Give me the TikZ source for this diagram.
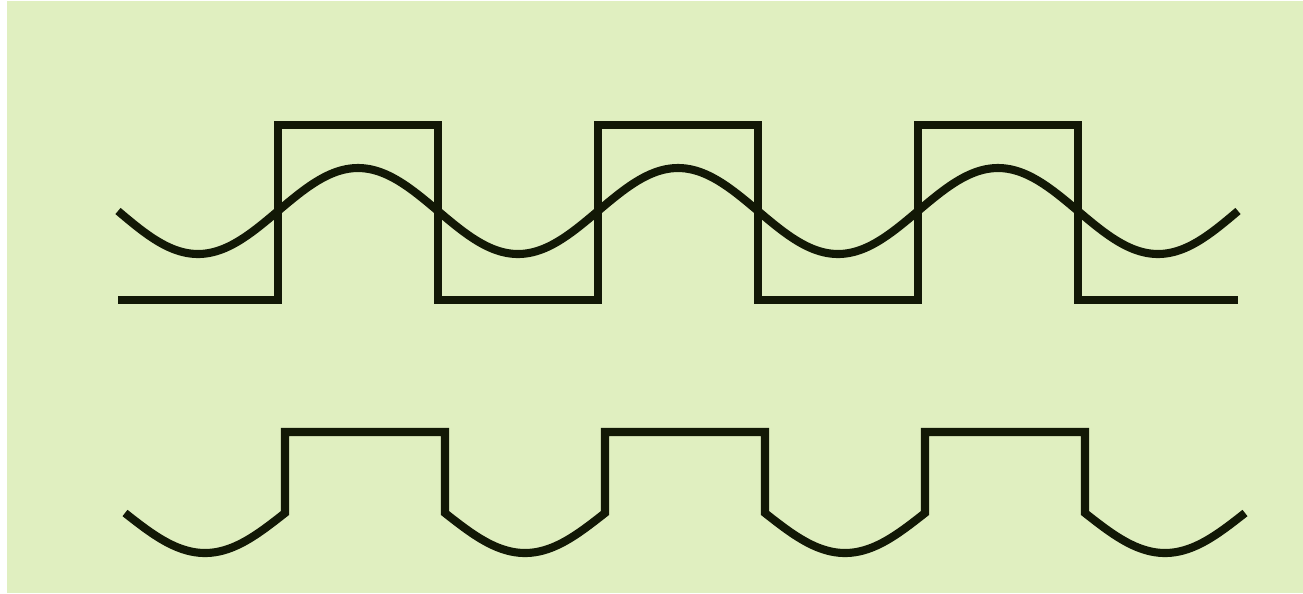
\documentclass[tikz,border=0pt]{standalone}
\usepackage{xcolor}
\usepackage{tikz}
\definecolor{bgGreen}{RGB}{224,239,192}
\definecolor{waveInk}{RGB}{18,24,6}

\begin{document}
\begin{tikzpicture}[x=0.01cm, y=-0.01cm, wave/.style={draw=waveInk, line width=2.3pt, line join=miter}]
    \useasboundingbox (0,0) rectangle (1303,593);
    \fill[white] (0,0) rectangle (1303,593);
    \fill[bgGreen] (7,1) rectangle (1303,593);
    % square wave
    \draw[wave] (118,300) -- (278,300) -- (278,125) -- (438,125) -- (438,300) -- (598,300) -- (598,125) -- (758,125)
        -- (758,300) -- (918,300) -- (918,125) -- (1078,125) -- (1078,300) -- (1238,300);
    % sine wave
    \draw[wave] plot[domain=118:1238, samples=220, smooth] (\x, {211+43*sin(1.125*(\x-118))});
    % combined wave
    \draw[wave] plot[domain=125:285, samples=40, smooth] (\x, {513+40*sin(1.125*(\x-125))})
        -- (285,432) -- (445,432) -- (445,513)
        -- plot[domain=445:605, samples=40, smooth] (\x, {513+40*sin(1.125*(\x-125))})
        -- (605,432) -- (765,432) -- (765,513)
        -- plot[domain=765:925, samples=40, smooth] (\x, {513+40*sin(1.125*(\x-125))})
        -- (925,432) -- (1085,432) -- (1085,513)
        -- plot[domain=1085:1245, samples=40, smooth] (\x, {513+40*sin(1.125*(\x-125))});
\end{tikzpicture}
\end{document}
